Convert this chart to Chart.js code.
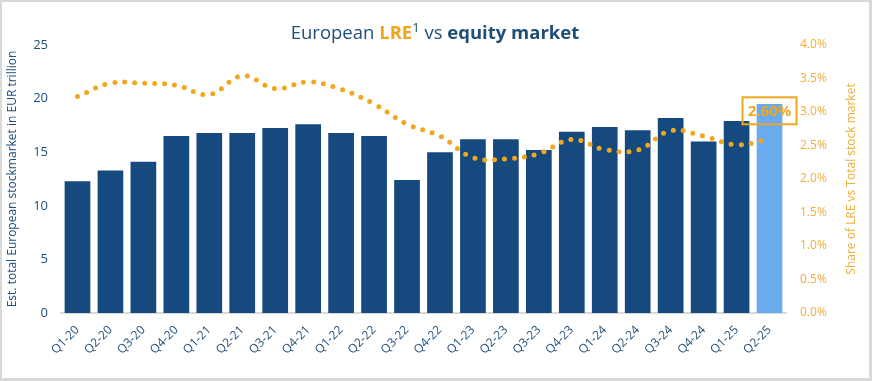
<!DOCTYPE html>
<html>
<head>
<meta charset="utf-8">
<script src="https://cdn.jsdelivr.net/npm/chart.js@4"></script>
<style>
  html, body { margin: 0; padding: 0; background: #fff; }
  #wrap { width: 872px; height: 381px; position: relative; }
</style>
</head>
<body>
<div id="wrap"><canvas id="chart" width="872" height="381"></canvas></div>
<script>
// Data
const quarters = ["Q1-20", "Q2-20", "Q3-20", "Q4-20", "Q1-21", "Q2-21", "Q3-21", "Q4-21",
    "Q1-22", "Q2-22", "Q3-22", "Q4-22", "Q1-23", "Q2-23", "Q3-23", "Q4-23",
    "Q1-24", "Q2-24", "Q3-24", "Q4-24", "Q1-25", "Q2-25"];
const marketSize = [12.3, 13.3, 14.1, 16.5, 16.8, 16.8, 17.25, 17.6,
    16.8, 16.5, 12.4, 15.0, 16.2, 16.2, 15.2, 16.9,
    17.35, 17.05, 18.2, 16.0, 17.9, 19.5];
const lreShare = [3.23, 3.43, 3.43, 3.40, 3.26, 3.54, 3.35, 3.45,
    3.34, 3.12, 2.82, 2.64, 2.32, 2.30, 2.38, 2.59,
    2.44, 2.43, 2.72, 2.64, 2.51, 2.60];
const leftTicks = [0, 5, 10, 15, 20, 25];
const rightTicks = [0, 0.5, 1, 1.5, 2, 2.5, 3, 3.5, 4];

const navy = "#164A7E";
const lightBlue = "#6AABF0";
const orange = "#F0A71E";
const axisBlue = "#1F4E79";
const tickOrange = "#F0AE3A";
const fontFamily = "'Open Sans', 'Liberation Sans', sans-serif";

const barColors = marketSize.map((v, i) => i === marketSize.length - 1 ? lightBlue : navy);

// draws the frame, title, axis titles and the last-value label
const extras = {
    id: "extras",
    afterDraw(chart) {
        const ctx = chart.ctx;
        const W = chart.width, H = chart.height;
        ctx.save();

        // frame
        ctx.fillStyle = "#D9D9D9";
        ctx.fillRect(0, 0, W, 2);
        ctx.fillRect(0, 0, 2, H);
        ctx.fillRect(W - 3, 0, 3, H);
        ctx.fillRect(0, H - 3, W, 3);

        // title with mixed styles
        const parts = [
            { t: "European ", c: axisBlue, w: "normal", s: 18.5 },
            { t: "LRE", c: orange, w: "bold", s: 18.5 },
            { t: "1", c: axisBlue, w: "normal", s: 13, sup: true },
            { t: " vs ", c: axisBlue, w: "normal", s: 18.5 },
            { t: "equity market", c: axisBlue, w: "bold", s: 18.5 }
        ];
        let total = 0;
        parts.forEach(p => {
            ctx.font = p.w + " " + p.s + "px " + fontFamily;
            p.width = ctx.measureText(p.t).width;
            total += p.width;
        });
        let x = 435 - total / 2;
        const baseY = 39;
        ctx.textBaseline = "alphabetic";
        ctx.textAlign = "left";
        parts.forEach(p => {
            ctx.font = p.w + " " + p.s + "px " + fontFamily;
            ctx.fillStyle = p.c;
            ctx.fillText(p.t, x, p.sup ? baseY - 7 : baseY);
            x += p.width;
        });

        // axis titles
        const area = chart.chartArea;
        const midY = (area.top + area.bottom) / 2;
        ctx.font = "12px " + fontFamily;
        ctx.textAlign = "center";
        ctx.textBaseline = "middle";
        ctx.save();
        ctx.translate(13, midY);
        ctx.rotate(-Math.PI / 2);
        ctx.fillStyle = axisBlue;
        ctx.fillText("Est. total European stockmarket in EUR trillion", 0, 0);
        ctx.restore();
        ctx.save();
        ctx.translate(852, midY);
        ctx.rotate(-Math.PI / 2);
        ctx.fillStyle = tickOrange;
        ctx.fillText("Share of LRE vs Total stock market", 0, 0);
        ctx.restore();

        // label for the latest share
        const last = lreShare.length - 1;
        const px = chart.scales.x.getPixelForValue(last);
        const py = chart.scales.y1.getPixelForValue(lreShare[last]);
        const cy = py - 28;
        ctx.strokeStyle = orange;
        ctx.lineWidth = 2;
        ctx.strokeRect(px - 27, cy - 13.5, 54, 27);
        ctx.font = "bold 15px " + fontFamily;
        ctx.fillStyle = orange;
        ctx.fillText(lreShare[last].toFixed(2) + "%", px, cy + 1);

        ctx.restore();
    }
};

new Chart(document.getElementById("chart").getContext("2d"), {
    type: "bar",
    data: {
        labels: quarters,
        datasets: [
            {
                type: "line",
                label: "Share of LRE",
                data: lreShare,
                yAxisID: "y1",
                borderColor: orange,
                borderWidth: 5,
                borderDash: [0, 10],
                borderCapStyle: "round",
                tension: 0.4,
                pointRadius: 0,
                fill: false,
                order: 1
            },
            {
                label: "Stock market",
                data: marketSize,
                yAxisID: "y",
                backgroundColor: barColors,
                barPercentage: 0.78,
                categoryPercentage: 1,
                order: 2
            }
        ]
    },
    options: {
        responsive: false,
        animation: false,
        layout: { padding: { top: 45, left: 0, right: 0, bottom: 0 } },
        plugins: {
            legend: { display: false },
            tooltip: { enabled: false }
        },
        scales: {
            x: {
                grid: { display: false, drawTicks: false },
                border: { display: true, color: "#D9D9D9", width: 2 },
                ticks: {
                    color: axisBlue,
                    font: { size: 12, family: fontFamily },
                    minRotation: 45,
                    maxRotation: 45,
                    padding: 10,
                    autoSkip: false
                },
                afterFit(scale) { scale.height = 68; }
            },
            y: {
                position: "left",
                min: 0,
                max: 25,
                afterBuildTicks(scale) { scale.ticks = leftTicks.map(v => ({ value: v })); },
                grid: { display: false, drawTicks: false },
                border: { display: false },
                ticks: {
                    color: axisBlue,
                    font: { size: 13, family: fontFamily },
                    padding: 13
                },
                afterFit(scale) { scale.width = 61; }
            },
            y1: {
                position: "right",
                min: 0,
                max: 4,
                afterBuildTicks(scale) { scale.ticks = rightTicks.map(v => ({ value: v })); },
                grid: { display: false, drawTicks: false },
                border: { display: false },
                ticks: {
                    color: tickOrange,
                    font: { size: 12, family: fontFamily },
                    padding: 14,
                    callback: v => v.toFixed(1) + "%"
                },
                afterFit(scale) { scale.width = 86; }
            }
        }
    },
    plugins: [extras]
});
</script>
</body>
</html>
